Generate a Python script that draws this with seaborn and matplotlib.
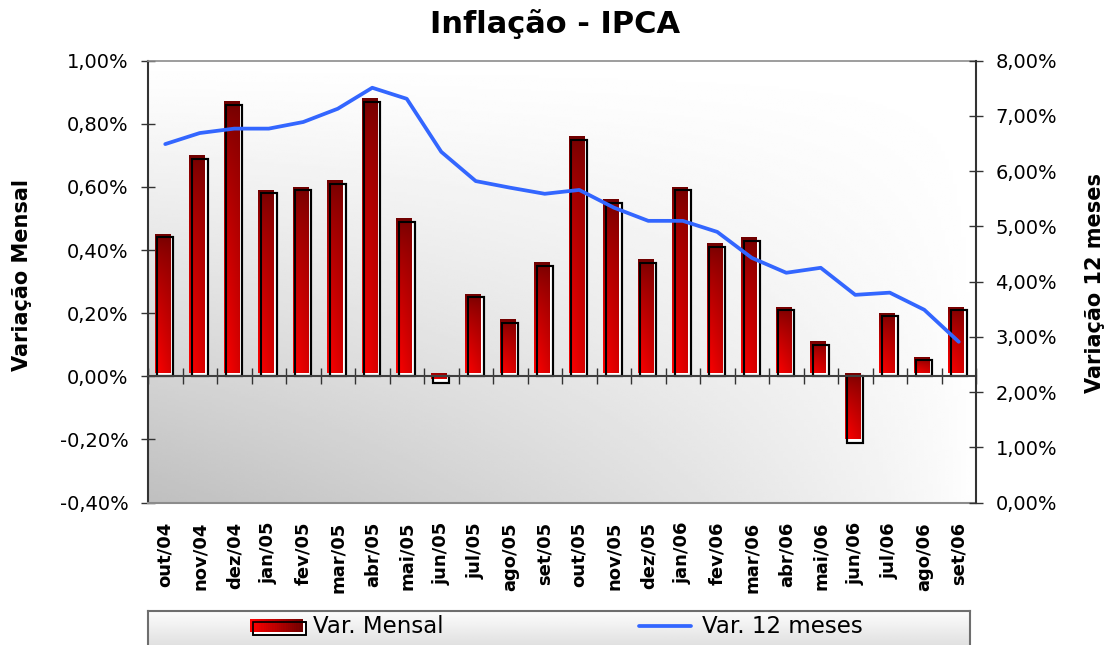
import matplotlib

matplotlib.use("Agg")

import matplotlib.pyplot as plt
import numpy as np
import pandas as pd
import seaborn as sns
from matplotlib.legend_handler import HandlerBase
from matplotlib.lines import Line2D
from matplotlib.patches import Rectangle
from matplotlib.transforms import ScaledTranslation

# Data
months = [
    "out/04", "nov/04", "dez/04", "jan/05", "fev/05", "mar/05", "abr/05", "mai/05",
    "jun/05", "jul/05", "ago/05", "set/05", "out/05", "nov/05", "dez/05", "jan/06",
    "fev/06", "mar/06", "abr/06", "mai/06", "jun/06", "jul/06", "ago/06", "set/06",
]
var_mensal = [
    0.44, 0.69, 0.86, 0.58, 0.59, 0.61, 0.87, 0.49,
    -0.02, 0.25, 0.17, 0.35, 0.75, 0.55, 0.36, 0.59,
    0.41, 0.43, 0.21, 0.10, -0.21, 0.19, 0.05, 0.21,
]
var_12m = [
    6.49, 6.69, 6.77, 6.77, 6.89, 7.13, 7.51, 7.31,
    6.35, 5.82, 5.70, 5.59, 5.66, 5.34, 5.10, 5.10,
    4.90, 4.43, 4.16, 4.25, 3.76, 3.80, 3.49, 2.91,
]
left_ticks = [-0.4, -0.2, 0.0, 0.2, 0.4, 0.6, 0.8, 1.0]
right_ticks = [0, 1, 2, 3, 4, 5, 6, 7, 8]

RED_DARK = "#6b0000"
BLUE = "#3366ff"
SPINE = "#333333"


def pct(v):
    """Format a value the Brazilian way, e.g. 0,80%"""
    return f"{v:.2f}%".replace(".", ",")


class GradientBarHandler(HandlerBase):
    """Legend key: red gradient block with an offset black outline"""

    def create_artists(self, legend, orig_handle, xdescent, ydescent,
                       width, height, fontsize, trans):
        x0, y0 = -xdescent, -ydescent
        arts = [Rectangle((x0 + 2, y0 - 2), width, height, facecolor="white",
                          edgecolor="black", lw=1.2, transform=trans)]
        n = 24
        for i in range(n):
            v = 1.0 - 0.55 * i / (n - 1)
            arts.append(Rectangle((x0 + width * i / n, y0), width / n, height,
                                  facecolor=(v, 0, 0), edgecolor="none",
                                  transform=trans))
        arts.append(Rectangle((x0 + 2, y0 - 2), width, height, fill=False,
                              edgecolor="black", lw=1.2, transform=trans))
        return arts


df = pd.DataFrame({"Mes": months, "Mensal": var_mensal, "Doze": var_12m})
df["Pos"] = range(len(df))

sns.set_theme(style="white")
plt.rcParams["font.family"] = ["DejaVu Sans"]
plt.rcParams["text.color"] = "black"
plt.rcParams["axes.labelcolor"] = "black"

fig = plt.figure(figsize=(11.04, 6.45), dpi=100, facecolor="white")
ax = fig.add_axes([148 / 1104, 1 - 502.5 / 645, 828 / 1104, (502.5 - 60.7) / 645])

# Plot-area background: grey at bottom-left fading to white
xx, yy = np.meshgrid(np.linspace(0, 1, 200), np.linspace(0, 1, 200))
shade = 1 - 0.25 * (1 - yy) ** 1.1 * (1 - xx) ** 0.75
ax.imshow(shade, cmap="gray", vmin=0, vmax=1, extent=[0, 1, 0, 1],
          transform=ax.transAxes, origin="lower", aspect="auto", zorder=0,
          interpolation="bilinear")

# Outline bars (true values), white fill
sns.barplot(data=df, x="Mes", y="Mensal", color="white", saturation=1,
            width=0.46, errorbar=None, edgecolor="black", linewidth=1.5,
            ax=ax, zorder=2)
outline = list(ax.containers[-1])

# Red bars, shifted up-left, filled with a gradient
sns.barplot(data=df, x="Mes", y="Mensal", color=RED_DARK, saturation=1,
            width=0.46, errorbar=None, linewidth=0, ax=ax, zorder=3)
red = list(ax.containers[-1])

shift = ax.transData + ScaledTranslation(-2.5 / 100, 3.5 / 100, fig.dpi_scale_trans)
rr = np.linspace(0, 1, 64)[:, None]
cc = np.linspace(0, 1, 16)[None, :]
bright = 0.44 + 0.56 * rr ** 0.65 * (1 - 0.28 * cc)
grad = np.zeros((64, 16, 4))
grad[..., 0] = bright
grad[..., 3] = 1
for p in red:
    p.set_transform(shift)
    x0, w, y0, h = p.get_x(), p.get_width(), p.get_y(), p.get_height()
    im = ax.imshow(grad, extent=[x0, x0 + w, min(y0, y0 + h), max(y0, y0 + h)],
                   origin="upper", aspect="auto", zorder=3.1,
                   interpolation="bilinear")
    im.set_transform(shift)
    im.set_clip_path(p)

# Outline edges on top of the red
for p in outline:
    ax.add_patch(Rectangle(p.get_xy(), p.get_width(), p.get_height(),
                           fill=False, edgecolor="black", linewidth=1.5,
                           zorder=4))

# 12-month line on the right axis
ax2 = ax.twinx()
sns.lineplot(data=df, x="Pos", y="Doze", color=BLUE, linewidth=2.7, ax=ax2,
             zorder=6)

ax.set_xlim(-0.5, len(months) - 0.5)
ax.set_ylim(left_ticks[0], left_ticks[-1])
ax2.set_ylim(right_ticks[0], right_ticks[-1])

# Left axis
ax.set_yticks(left_ticks, labels=[pct(v) for v in left_ticks])
ax.tick_params(axis="y", direction="inout", length=10, width=1, color=SPINE,
               labelsize=14, pad=9, left=True, labelcolor="black")
ax.set_xticks(range(len(months)), labels=months)
ax.tick_params(axis="x", length=0, pad=14, labelsize=13, labelrotation=90,
               labelcolor="black")
for lbl in ax.get_xticklabels():
    lbl.set_fontweight("bold")
ax.set_xlabel("")
ax.set_ylabel("")
ax.spines["left"].set(color=SPINE, linewidth=1.5)
ax.spines["top"].set(color="#8c8c8c", linewidth=1.2)
ax.spines["bottom"].set(color="#8c8c8c", linewidth=1.5)
ax.spines["right"].set_visible(False)

# Category axis crossing at zero
zero = ax.secondary_xaxis(0, transform=ax.transData)
zero.set_xticks(np.arange(len(months) + 1) - 0.5, labels=[])
zero.tick_params(direction="inout", length=11, width=1, color=SPINE, bottom=True)
zero.spines["bottom"].set(color="#404040", linewidth=1.5)
zero.set_zorder(5)

# Right axis
ax2.set_yticks(right_ticks, labels=[pct(v) for v in right_ticks])
ax2.tick_params(axis="y", direction="inout", length=10, width=1, color=SPINE,
                labelsize=14, pad=9, right=True, labelcolor="black")
ax2.set_ylabel("")
for side in ["left", "top", "bottom"]:
    ax2.spines[side].set_visible(False)
ax2.spines["right"].set(color=SPINE, linewidth=1.5)

# Titles
fig.text(0.503, 1 - 33 / 645, "Inflação - IPCA", ha="center", va="baseline",
         fontsize=22, fontweight="bold", color="black")
fig.text(22 / 1104, 1 - 275 / 645, "Variação Mensal", rotation=90,
         ha="center", va="center", fontsize=15, fontweight="bold", color="black")
fig.text(1095 / 1104, 1 - 283 / 645, "Variação 12 meses", rotation=90,
         ha="center", va="center", fontsize=15, fontweight="bold", color="black")

# Legend box along the bottom
lax = fig.add_axes([148 / 1104, -0.02, 822 / 1104, (645 - 611) / 645 + 0.02],
                   zorder=-1)
lgrad = np.linspace(0.84, 0.99, 60)[:, None]
lax.imshow(np.repeat(lgrad, 4, axis=1), cmap="gray", vmin=0, vmax=1,
           extent=[0, 1, 0, 1], origin="lower", aspect="auto",
           interpolation="bilinear")
lax.set_xticks([])
lax.set_yticks([])
for s in lax.spines.values():
    s.set(color="#6e6e6e", linewidth=1.5)

bar_handle = Rectangle((0, 0), 1, 1)
line_handle = Line2D([], [], color=BLUE, lw=2.7)
fig.legend([bar_handle, line_handle], ["Var. Mensal", "Var. 12 meses"],
           handler_map={bar_handle: GradientBarHandler()},
           loc="center", bbox_to_anchor=(0.504, 0.028), ncol=2,
           frameon=False, fontsize=16.5, handlelength=2.3, handleheight=0.5,
           handletextpad=0.45, columnspacing=8.5, labelcolor="black")

fig.savefig("out.png", dpi=100)
